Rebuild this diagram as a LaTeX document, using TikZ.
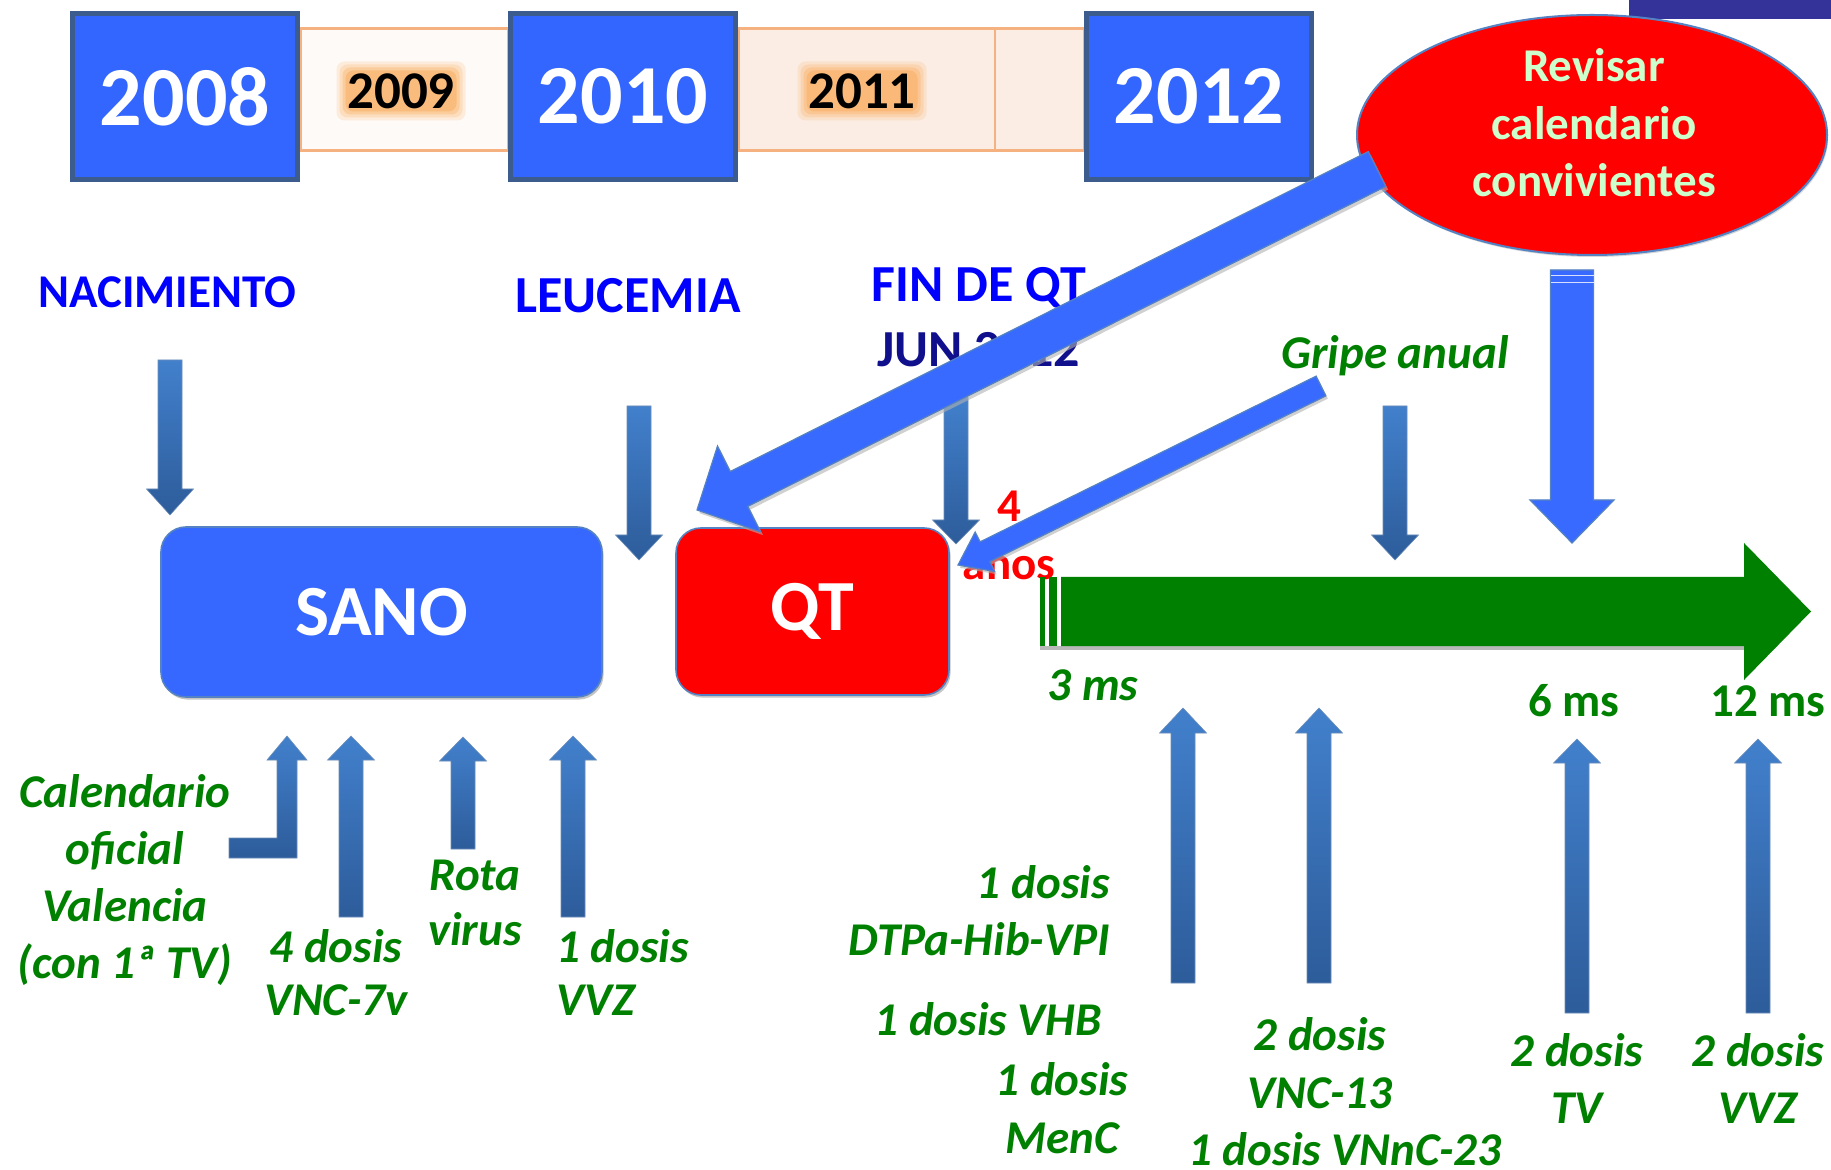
\documentclass[tikz,border=0pt]{standalone}
\usepackage{fontspec}
\setmainfont{Carlito}
\usetikzlibrary{calc,shapes.geometric,shadows}
\definecolor{yblue}{RGB}{51,102,255}
\definecolor{yedge}{RGB}{60,92,142}
\definecolor{bandedge}{RGB}{245,178,128}
\definecolor{bandA}{RGB}{254,250,247}
\definecolor{bandB}{RGB}{251,237,228}
\definecolor{boxedge}{RGB}{84,130,195}
\definecolor{bblue}{RGB}{56,106,255}
\definecolor{vgreen}{RGB}{0,128,0}
\definecolor{gtop}{RGB}{66,128,204}
\definecolor{gbot}{RGB}{45,92,154}
\definecolor{navytxt}{RGB}{16,16,140}
\definecolor{palegreen}{RGB}{204,255,204}
\definecolor{darkbar}{RGB}{51,51,153}
\definecolor{glowc}{RGB}{250,168,82}
\definecolor{sanoblue}{RGB}{54,104,255}

% block arrow: #1 options, #2 tail, #3 tip, #4 shaft half width, #5 head half width, #6 head length
\newcommand{\blockarr}[6]{%
  \coordinate (blkB) at ($(#3)!#6!(#2)$);
  \path[#1] ($(#2)!#4!90:(#3)$) -- ($(blkB)!#4!90:(#3)$) -- ($(blkB)!#5!90:(#3)$) -- (#3)
    -- ($(blkB)!#5!-90:(#3)$) -- ($(blkB)!#4!-90:(#3)$) -- ($(#2)!#4!-90:(#3)$) -- cycle;}

% soft orange glow behind a year label centred at (#1,#2)
\newcommand{\yearglow}[2]{%
  \foreach \m/\op in {11/0.16,8/0.22,5/0.3,2/0.42}{%
    \fill[glowc, opacity=\op, rounded corners=4pt] (#1-53.5-\m,#2-18.5-\m) rectangle (#1+53.5+\m,#2+18.5+\m);}}

\tikzset{
  yearbox/.style={fill=yblue, draw=yedge, line width=2.5pt, text=white, inner sep=0,
    font=\bfseries\fontsize{42}{48}\selectfont, minimum width=112.5pt, minimum height=83pt},
  band/.style={draw=bandedge, line width=1.5pt},
  midyear/.style={text=black, font=\bfseries\fontsize{26.5}{30}\selectfont, inner sep=0},
  headtxt/.style={text=blue, font=\bfseries\fontsize{26}{32.5}\selectfont, inner sep=0, anchor=base, align=center},
  vlbl/.style={text=vgreen, font=\bfseries\itshape\fontsize{23.5}{28.5}\selectfont, inner sep=0, align=center, anchor=base},
  mslbl/.style={text=vgreen, font=\bfseries\fontsize{23.5}{28.5}\selectfont, inner sep=0, anchor=base},
  gradarrow/.style={top color=gtop, bottom color=gbot, draw=gbot!70!white, line width=0.3pt},
  bigarrow/.style={fill=bblue, draw=boxedge, line width=0.6pt},
  arrshadow/.style={fill=gray!60, opacity=0.6},
  state/.style={rounded corners=12.5pt, draw=boxedge, line width=0.8pt, text=white, inner sep=0,
    font=\bfseries\fontsize{36}{40}\selectfont, drop shadow={opacity=0.45, shadow xshift=0.8pt, shadow yshift=-1.3pt}},
}

\begin{document}
\begin{tikzpicture}[x=0.5pt,y=-0.5pt]
\useasboundingbox[fill=white] (0,0) rectangle (1831,1170);

% ---------- timeline at top ----------
\draw[band, fill=bandA] (300,29) rectangle (508,151);
\draw[band, fill=bandB] (738,29) rectangle (1084,151);
\draw[bandedge, line width=1pt] (995,29) -- (995,151);
\yearglow{401}{91}
\yearglow{862}{91}
\node[midyear] (y2009) at (401,91) {2009};
\node[midyear] (y2011) at (862,91) {2011};
\node[yearbox] (y2008) at (185,96.5) {2008};
\node[yearbox] (y2010) at (623,96.5) {2010};
\node[yearbox] (y2012) at (1199,96.5) {2012};
\fill[darkbar] (1629,0) rectangle (1831,19);

% ---------- ellipse ----------
\node[ellipse, fill=red, draw=boxedge, line width=1pt, minimum width=235pt, minimum height=120pt, inner sep=0,
      drop shadow={opacity=0.3, shadow xshift=0.6pt, shadow yshift=-1pt}] (ell) at (1592,135) {};
\node[text=palegreen, font=\bfseries\fontsize{23.5}{28.75}\selectfont, align=center, anchor=base, inner sep=0]
      (elltxt) at (1594,197) {Revisar\\calendario\\convivientes};

% ---------- headings ----------
\node[headtxt, font=\bfseries\fontsize{23.5}{30}\selectfont] (nac) at (167,308) {NACIMIENTO};
\node[headtxt] (leu) at (628,313) {LEUCEMIA};
\node[headtxt] (fin) at (979,367) {FIN DE QT\\\textcolor{navytxt}{JUN 2012}};
\node[vlbl] (gripe) at (1395,369) {Gripe anual};
\node[text=red, font=\bfseries\fontsize{23.5}{29}\selectfont, align=center, anchor=base, inner sep=0] (anos) at (1009,580) {4\\años};

% ---------- bottom labels ----------
\node[vlbl] (cal) at (125,978) {Calendario\\oficial\\Valencia\\(con 1ª TV)};
\node[vlbl, font=\bfseries\itshape\fontsize{23.5}{26.5}\selectfont] (vnc7) at (336,1015) {4 dosis\\VNC-7v};
\node[vlbl, font=\bfseries\itshape\fontsize{23.5}{27.5}\selectfont] (rota) at (475,945) {Rota\\virus};
\node[vlbl, font=\bfseries\itshape\fontsize{23.5}{26.5}\selectfont, anchor=base west, align=left] (vvz1) at (556,1015) {1 dosis\\VVZ};
\node[vlbl, anchor=base east, align=right] (dtpa) at (1110,955) {1 dosis\\DTPa-Hib-VPI};
\node[vlbl, anchor=base east] (vhb) at (1102,1035) {1 dosis VHB};
\node[vlbl, font=\bfseries\itshape\fontsize{23.5}{29}\selectfont] (menc) at (1062,1153) {1 dosis\\MenC};
\node[vlbl, font=\bfseries\itshape\fontsize{23.5}{29}\selectfont] (vnc13) at (1320,1108) {2 dosis\\VNC-13};
\node[vlbl] (vnnc) at (1345,1165) {1 dosis VNnC-23};
\node[vlbl] (tv) at (1577,1123) {2 dosis\\TV};
\node[vlbl] (vvz2) at (1758,1123) {2 dosis\\VVZ};
\node[vlbl] (m3) at (1093,700) {3 ms};
\node[mslbl] (m6) at (1574,716) {6 ms};
\node[mslbl] (m12) at (1768,716) {12 ms};

% ---------- gradient down arrows ----------
\coordinate (nacA) at (170,360);  \coordinate (nacB) at (170,515);
\coordinate (leuA) at (639,406);  \coordinate (leuB) at (639,560);
\coordinate (finA) at (956,397);  \coordinate (finB) at (956,544);
\coordinate (griA) at (1395,406); \coordinate (griB) at (1395,560);
\blockarr{gradarrow}{nacA}{nacB}{6pt}{11.75pt}{13pt}
\blockarr{gradarrow}{leuA}{leuB}{6pt}{11.75pt}{12.5pt}
\blockarr{gradarrow}{finA}{finB}{6pt}{11.75pt}{12pt}
\blockarr{gradarrow}{griA}{griB}{6pt}{11.75pt}{12.5pt}

% ---------- gradient up arrows ----------
\coordinate (elbT) at (287,736);
\path[gradarrow] ($(elbT)+(-58,102)$) -- ($(elbT)+(-10,102)$) -- ($(elbT)+(-10,24)$) -- ($(elbT)+(-20,24)$)
   -- (elbT) -- ($(elbT)+(20,24)$) -- ($(elbT)+(10,24)$) -- ($(elbT)+(10,122)$) -- ($(elbT)+(-58,122)$) -- cycle;
\coordinate (v7A) at (351,917);   \coordinate (v7B) at (351,736);
\coordinate (roA) at (463,849);   \coordinate (roB) at (463,737);
\coordinate (vzA) at (573,917);   \coordinate (vzB) at (573,736);
\coordinate (r1A) at (1183,983);  \coordinate (r1B) at (1183,708);
\coordinate (r2A) at (1319,983);  \coordinate (r2B) at (1319,708);
\coordinate (r3A) at (1577,1013); \coordinate (r3B) at (1577,739);
\coordinate (r4A) at (1758,1013); \coordinate (r4B) at (1758,739);
\blockarr{gradarrow}{v7A}{v7B}{6pt}{11.75pt}{12pt}
\blockarr{gradarrow}{roA}{roB}{6pt}{11.75pt}{12pt}
\blockarr{gradarrow}{vzA}{vzB}{6pt}{11.75pt}{12pt}
\blockarr{gradarrow}{r1A}{r1B}{6pt}{11.75pt}{12.5pt}
\blockarr{gradarrow}{r2A}{r2B}{6pt}{11.75pt}{12.5pt}
\blockarr{gradarrow}{r3A}{r3B}{6pt}{11.75pt}{12pt}
\blockarr{gradarrow}{r4A}{r4B}{6pt}{11.75pt}{12pt}

% ---------- state boxes ----------
\node[state, fill=sanoblue, minimum width=220.5pt, minimum height=85pt] (sano) at (381.5,612) {SANO};
\node[state, fill=red, minimum width=136.5pt, minimum height=83.5pt] (qt) at (812.5,611.5) {QT};

% ---------- green time arrow ----------
\coordinate (gA) at (1061,611.5); \coordinate (gB) at (1811,611.5);
\fill[gray!55] (1040,646) rectangle (1744,650);
\blockarr{fill=vgreen}{gA}{gB}{17.25pt}{34.25pt}{33.5pt}
\fill[vgreen] (1040,577) rectangle (1045,646);
\fill[vgreen] (1049,577) rectangle (1057,646);

% ---------- big blue arrows ----------
\coordinate (dA) at (1377,169); \coordinate (dB) at (697,510);
\coordinate (gpA) at (1321,386); \coordinate (gpB) at (958,565);
\coordinate (bdA) at (1572,270); \coordinate (bdB) at (1572,543);
\blockarr{arrshadow, transform canvas={shift={(1.2pt,-1.6pt)}}}{dA}{dB}{9.75pt}{24pt}{23.5pt}
\blockarr{bigarrow}{dA}{dB}{9.75pt}{24pt}{23.5pt}
\blockarr{arrshadow, transform canvas={shift={(1pt,-1.4pt)}}}{gpA}{gpB}{5.5pt}{11pt}{15pt}
\blockarr{bigarrow}{gpA}{gpB}{5.5pt}{11pt}{15pt}
\blockarr{bigarrow}{bdA}{bdB}{10.75pt}{21pt}{21.5pt}
\draw[white!80!bblue, line width=0.5pt] (1551,276) -- (1594,276) (1551,283) -- (1594,283);
\end{tikzpicture}
\end{document}
